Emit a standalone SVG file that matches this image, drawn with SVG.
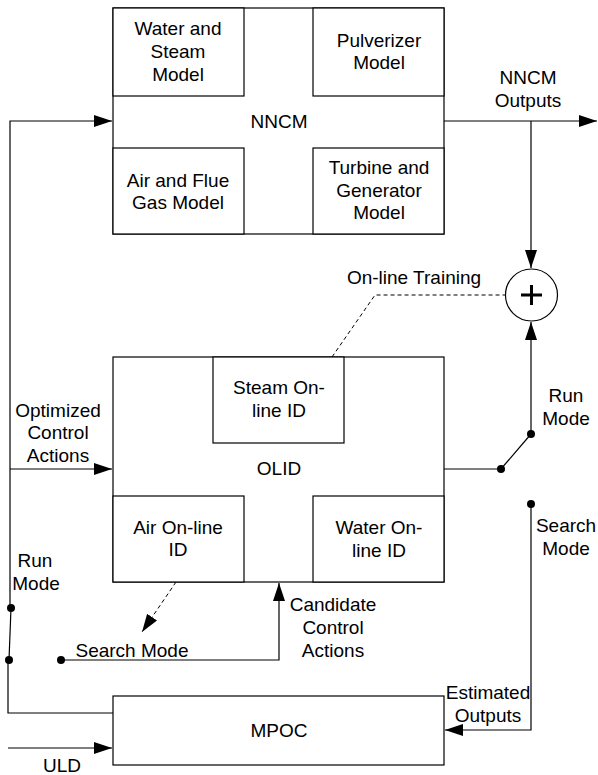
<svg xmlns="http://www.w3.org/2000/svg" width="598" height="775" viewBox="0 0 598 775">
<style>
.box{fill:#fff;stroke:#000;stroke-width:1.2}
.ln{fill:none;stroke:#000;stroke-width:1.2}
.dash{fill:none;stroke:#000;stroke-width:1;stroke-dasharray:4,3}
.t{font-family:"Liberation Sans",Arial,sans-serif;font-size:19px;fill:#000;text-anchor:middle}
.dot{fill:#000}
</style>
<defs>
<marker id="ah" markerUnits="userSpaceOnUse" markerWidth="19" markerHeight="13" refX="18" refY="6" orient="auto">
<path d="M0,0 L18,6 L0,12 z" fill="#000"/>
</marker>
</defs>
<rect width="598" height="775" fill="#fff"/>
<g id="connectors">
<polyline class="ln" points="113,713 8,713 8,660"/>
<line class="ln" x1="9" y1="660" x2="11" y2="608"/>
<polyline class="ln" points="10,608 10,121 112,121" marker-end="url(#ah)"/>
<line class="ln" x1="10" y1="469" x2="112" y2="469" marker-end="url(#ah)"/>
<line class="ln" x1="8" y1="748" x2="112" y2="748" marker-end="url(#ah)"/>
<line class="ln" x1="444" y1="121" x2="597" y2="121" marker-end="url(#ah)"/>
<line class="ln" x1="531" y1="121" x2="531" y2="268" marker-end="url(#ah)"/>
<polyline class="ln" points="444,469 501,469 531,434"/>
<line class="ln" x1="531" y1="434" x2="531" y2="322" marker-end="url(#ah)"/>
<polyline class="ln" points="531,504 531,730 445,730" marker-end="url(#ah)"/>
<polyline class="ln" points="61,660 279,660 279,583" marker-end="url(#ah)"/>
<polyline class="dash" points="332,357 375,295 505,295"/>
<line class="dash" x1="176" y1="582" x2="142" y2="632" marker-end="url(#ah)"/>
<circle class="dot" cx="11" cy="608" r="4"/>
<circle class="dot" cx="9" cy="660" r="4"/>
<circle class="dot" cx="61" cy="660" r="4"/>
<circle class="dot" cx="501" cy="469" r="4"/>
<circle class="dot" cx="531" cy="434" r="4"/>
<circle class="dot" cx="531" cy="504" r="4"/>
</g>
<g id="NNCM">
<rect class="box" x="113" y="8" width="331" height="226"/>
<rect class="box" x="113" y="8" width="131" height="88"/>
<rect class="box" x="313" y="8" width="131" height="88"/>
<rect class="box" x="113" y="148" width="131" height="86"/>
<rect class="box" x="313" y="148" width="131" height="86"/>
<text class="t" x="178" y="35">Water and</text>
<text class="t" x="178" y="58">Steam</text>
<text class="t" x="178" y="81">Model</text>
<text class="t" x="379" y="47">Pulverizer</text>
<text class="t" x="379" y="69">Model</text>
<text class="t" x="279" y="128">NNCM</text>
<text class="t" x="178" y="187">Air and Flue</text>
<text class="t" x="178" y="209">Gas Model</text>
<text class="t" x="379" y="174">Turbine and</text>
<text class="t" x="379" y="197">Generator</text>
<text class="t" x="379" y="219">Model</text>
</g>
<g id="sum">
<circle cx="531.5" cy="295" r="26" fill="#fff" stroke="#000" stroke-width="1.2"/>
<path d="M521,295 H542 M531.5,285 V305" stroke="#000" stroke-width="3"/>
</g>
<g id="OLID">
<rect class="box" x="113" y="357" width="331" height="225"/>
<rect class="box" x="213" y="357" width="131" height="86"/>
<rect class="box" x="113" y="496" width="131" height="86"/>
<rect class="box" x="313" y="496" width="131" height="86"/>
<text class="t" x="279" y="394">Steam On-</text>
<text class="t" x="279" y="417">line ID</text>
<text class="t" x="279" y="475">OLID</text>
<text class="t" x="178" y="534">Air On-line</text>
<text class="t" x="178" y="556">ID</text>
<text class="t" x="379" y="534">Water On-</text>
<text class="t" x="379" y="557">line ID</text>
</g>
<g id="MPOC">
<rect class="box" x="113" y="696" width="331" height="69"/>
<text class="t" x="279" y="737">MPOC</text>
</g>
<g id="labels">
<text class="t" x="528" y="84">NNCM</text>
<text class="t" x="528" y="107">Outputs</text>
<text class="t" x="414" y="284">On-line Training</text>
<text class="t" x="58" y="417">Optimized</text>
<text class="t" x="58" y="439">Control</text>
<text class="t" x="58" y="462">Actions</text>
<text class="t" x="566" y="402">Run</text>
<text class="t" x="566" y="425">Mode</text>
<text class="t" x="566" y="532">Search</text>
<text class="t" x="566" y="555">Mode</text>
<text class="t" x="35" y="567">Run</text>
<text class="t" x="36" y="590">Mode</text>
<text class="t" x="333" y="611">Candidate</text>
<text class="t" x="333" y="634">Control</text>
<text class="t" x="333" y="657">Actions</text>
<text class="t" x="132" y="657">Search Mode</text>
<text class="t" x="488" y="699">Estimated</text>
<text class="t" x="488" y="722">Outputs</text>
<text class="t" x="62" y="772">ULD</text>
</g>
</svg>
